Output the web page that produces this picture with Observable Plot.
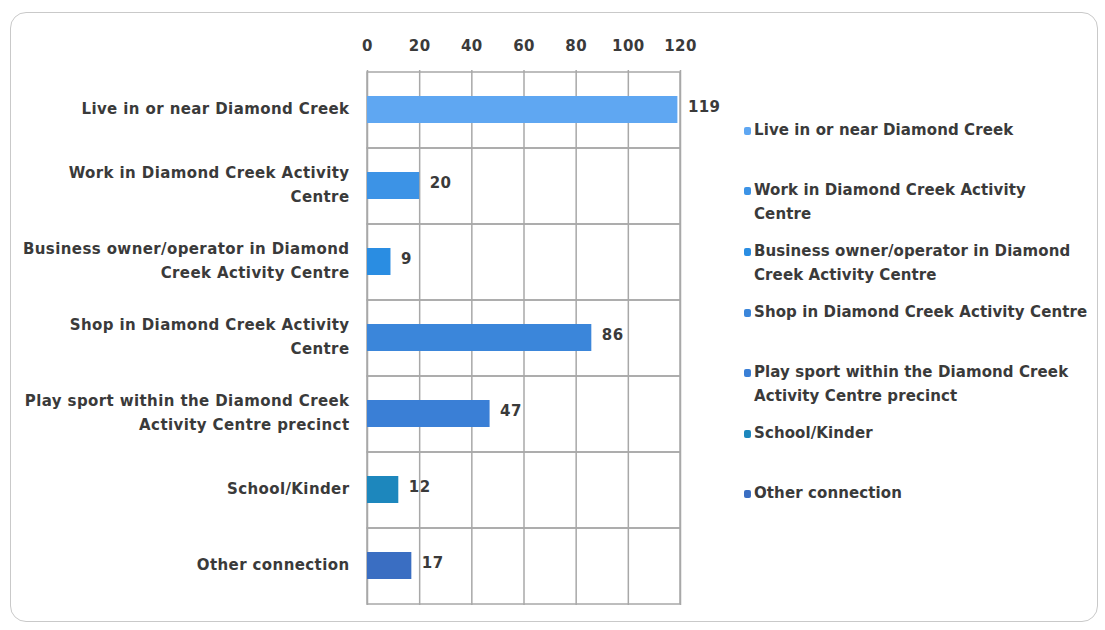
<!DOCTYPE html>
<html>
<head>
<meta charset="utf-8">
<script src="https://cdn.jsdelivr.net/npm/d3@7"></script>
<script src="https://cdn.jsdelivr.net/npm/@observablehq/plot@0.6"></script>
<style>
  body { margin: 0; background: #fff; }
  #wrap { position: relative; width: 1105px; height: 630px; overflow: hidden; font-family: "DejaVu Sans", sans-serif; }
  #frame { position: absolute; left: 10px; top: 12px; width: 1088px; height: 610px; border: 1px solid #c9c9c9; border-radius: 16px; box-sizing: border-box; }
  #chart { position: absolute; left: 0; top: 0; }
  #chart svg text { letter-spacing: 0.4px; }
  .leg { position: absolute; left: 754px; font-size: 15px; font-weight: bold; color: #3a3a3a; line-height: 24px; width: 350px; white-space: nowrap; letter-spacing: 0.1px; }
  .sw { position: absolute; left: -10px; top: 9px; width: 7px; height: 8px; border-radius: 2px; }
</style>
</head>
<body>
<div id="wrap"><div id="frame"></div><div id="chart"></div></div>
<script>
const categories = [
  "Live in or near Diamond Creek",
  "Work in Diamond Creek Activity Centre",
  "Business owner/operator in Diamond Creek Activity Centre",
  "Shop in Diamond Creek Activity Centre",
  "Play sport within the Diamond Creek Activity Centre precinct",
  "School/Kinder",
  "Other connection"
];
const values = [119, 20, 9, 86, 47, 12, 17];
const axisLabels = [
  "Live in or near Diamond Creek",
  "Work in Diamond Creek Activity\nCentre",
  "Business owner/operator in Diamond\nCreek Activity Centre",
  "Shop in Diamond Creek Activity\nCentre",
  "Play sport within the Diamond Creek\nActivity Centre precinct",
  "School/Kinder",
  "Other connection"
];
const legendLabels = [
  "Live in or near Diamond Creek",
  "Work in Diamond Creek Activity<br>Centre",
  "Business owner/operator in Diamond<br>Creek Activity Centre",
  "Shop in Diamond Creek Activity Centre",
  "Play sport within the Diamond Creek<br>Activity Centre precinct",
  "School/Kinder",
  "Other connection"
];
const xTicks = [0, 20, 40, 60, 80, 100, 120];

const palette = ["#5fa7f2", "#3c93e6", "#2a8de2", "#3b86da", "#3a7fd6", "#1d87bd", "#3a6ec2"];
const gridColor = "#a8a8a8";

const data = categories.map((c, i) => ({category: c, value: values[i]}));
const labelOf = Object.fromEntries(categories.map((c, i) => [c, axisLabels[i]]));

const chart = Plot.plot({
  width: 720,
  height: 630,
  marginTop: 70,
  marginBottom: 25,
  marginLeft: 367,
  marginRight: 40,
  style: {fontFamily: "DejaVu Sans, sans-serif", fontSize: "15px", fontWeight: "bold", color: "#3a3a3a", background: "transparent"},
  x: {domain: [0, 120], ticks: xTicks, label: null},
  y: {domain: categories, padding: 0, label: null},
  color: {domain: categories, range: palette},
  marks: [
    Plot.gridX(xTicks, {stroke: gridColor, strokeOpacity: 1, strokeWidth: 1.5}),
    Plot.barX(categories, {x1: 0, x2: 120, y: d => d, fill: "none", stroke: gridColor, strokeWidth: 1.5}),
    Plot.barX(data, {x: "value", y: "category", fill: "category", insetTop: 24, insetBottom: 25}),
    Plot.text(data, {x: "value", y: "category", text: d => String(d.value), textAnchor: "start", dx: 10, dy: -3, fill: "#3a3a3a", fontSize: 15}),
    Plot.axisX(xTicks, {anchor: "top", tickSize: 0, tickPadding: 20, fill: "#3a3a3a", fontSize: 15, label: null}),
    Plot.axisY({tickSize: 0, tickPadding: 18, dy: -4, tickFormat: d => labelOf[d], lineHeight: 1.6, fill: "#3a3a3a", fontSize: 15, label: null})
  ]
});
document.getElementById("chart").appendChild(chart);

const centers = [130, 190, 251, 312, 372, 433, 493];
const wrap = document.getElementById("wrap");
legendLabels.forEach((t, i) => {
  const d = document.createElement("div");
  d.className = "leg";
  d.style.top = (centers[i] - 12) + "px";
  d.innerHTML = `<span class="sw" style="background:${palette[i]}"></span>${t}`;
  wrap.appendChild(d);
});
</script>
</body>
</html>
